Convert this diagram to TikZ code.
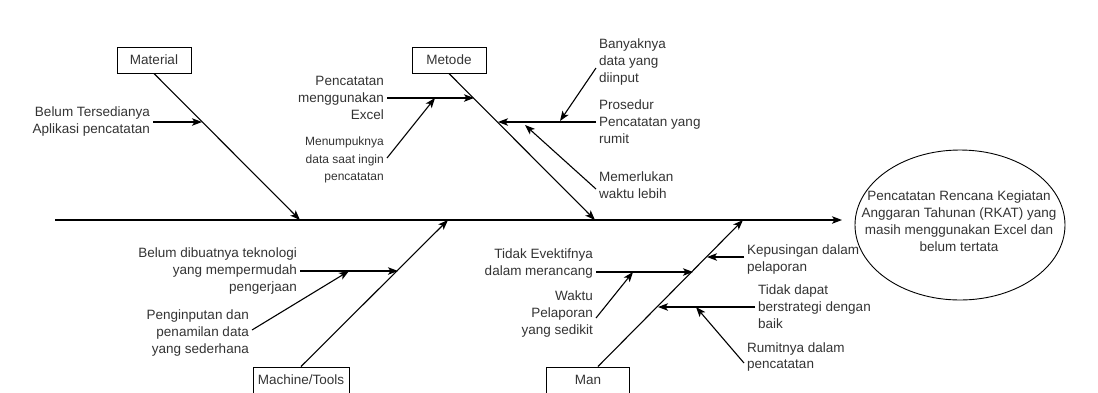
\documentclass[tikz,border=0pt]{standalone}
\usepackage{fontspec}
\setmainfont{Liberation Sans}
\usetikzlibrary{arrows.meta,shapes.geometric}

\begin{document}
\begin{tikzpicture}[x=1pt, y=-1pt,
  bone/.style={line width=1.1pt, -{Stealth[length=10pt,width=7.5pt,inset=2.5pt]}},
  catbox/.style={draw, line width=1pt, minimum height=26pt, inner sep=0pt, text=black!80, font=\fontsize{13.5}{16}\selectfont},
  whyleft/.style={anchor=east, align=right, inner xsep=3pt, inner ysep=0pt, text=black!80, font=\fontsize{13.5}{17}\selectfont},
  whyright/.style={whyleft, anchor=west, align=left},
  whysmall/.style={whyleft, font=\fontsize{12}{17.5}\selectfont}]

\useasboundingbox (0,0) rectangle (1098,392);

% -------- spine and effect -----------
\coordinate (sp0) at (55,220);
\coordinate (sp1) at (842,220);
\draw [bone] (sp0) -- (sp1);

\node [draw, ellipse, line width=0.9pt, minimum width=210pt, minimum height=150pt, inner sep=0pt] (effect) at (960,225) {};
\node [align=center, inner sep=0pt, text=black!80, font=\fontsize{13.5}{16.8}\selectfont] (effectText) at (959,221)
  {Pencatatan Rencana Kegiatan\\Anggaran Tahunan (RKAT) yang\\masih menggunakan Excel dan\\belum tertata};

% -------- categories -----------
\node [catbox, minimum width=74pt] (material) at (154,60) {Material};
\node [catbox, minimum width=74pt] (metode)   at (449,60) {Metode};
\node [catbox, minimum width=96pt] (machine)  at (301,380) {Machine/Tools};
\node [catbox, minimum width=83pt] (man)      at (588,380) {Man};

\coordinate (matEnd) at (300,220);
\coordinate (metEnd) at (595,220);
\coordinate (macEnd) at (448,220);
\coordinate (manEnd) at (743,220);

\draw [bone] (material.south) -- (matEnd);
\draw [bone] (metode.south) -- (metEnd);
\draw [bone] (machine.north) -- (macEnd);
\draw [bone] ([xshift=10pt]man.north) -- (manEnd);

% -------- Material -----------
\node [whyleft] (matA) at (153,122) {Belum Tersedianya\\Aplikasi pencatatan};
\coordinate (ma1) at (202,122);
\draw [bone] (matA.east) -- (ma1);

% -------- Metode -----------
\node [whyleft]  (metA) at (387,98)  {Pencatatan\\menggunakan\\Excel};
\node [whysmall] (metB) at (387,160) {Menumpuknya\\data saat ingin\\pencatatan};
\node [whyright] (metC) at (596,122) {Prosedur\\Pencatatan yang\\rumit};
\node [whyright] (metD) at (596,62)  {Banyaknya\\data yang\\diinput};
\node [whyright] (metE) at (596,185) {Memerlukan\\waktu lebih};

\coordinate (me1) at (474,98);
\coordinate (me2) at (435,98);
\coordinate (me3) at (498,122);
\coordinate (me4) at (560,121);
\coordinate (me5) at (525,125);

\draw [bone] (metA.east) -- (me1);
\draw [bone] ([yshift=2pt]metB.east) -- (me2);
\draw [bone] (metC.west) -- (me3);
\draw [bone] ([yshift=-6pt]metD.west) -- (me4);
\draw [bone] ([yshift=-4pt]metE.west) -- (me5);

% -------- Machine/Tools -----------
\node [whyleft] (macA) at (300,271) {Belum dibuatnya teknologi\\yang mempermudah\\pengerjaan};
\node [whyleft] (macB) at (252,333) {Penginputan dan\\penamilan data\\yang sederhana};

\coordinate (mc1) at (398,271);
\coordinate (mc2) at (349,271);

\draw [bone] (macA.east) -- (mc1);
\draw [bone] ([yshift=3pt]macB.east) -- (mc2);

% -------- Man -----------
\node [whyleft]  (manA) at (596,264) {Tidak Evektifnya\\dalam merancang};
\node [whyleft]  (manB) at (596,314) {Waktu\\Pelaporan\\yang sedikit};
\node [whyright] (manC) at (744,260) {Kepusingan dalam\\pelaporan};
\node [whyright] (manD) at (755,307) {Tidak dapat\\berstrategi dengan\\baik};
\node [whyright] (manE) at (744,357) {Rumitnya dalam\\pencatatan};

\coordinate (mn1) at (693,272);
\coordinate (mn2) at (633,272);
\coordinate (mn3) at (707,257);
\coordinate (mn4) at (658,307);
\coordinate (mn5) at (696,307);

\draw [bone] ([yshift=-8pt]manA.east) -- (mn1);
\draw [bone] ([yshift=-4pt]manB.east) -- (mn2);
\draw [bone] ([yshift=3pt]manC.west) -- (mn3);
\draw [bone] (manD.west) -- (mn4);
\draw [bone] ([yshift=-6pt]manE.west) -- (mn5);

\end{tikzpicture}
\end{document}
